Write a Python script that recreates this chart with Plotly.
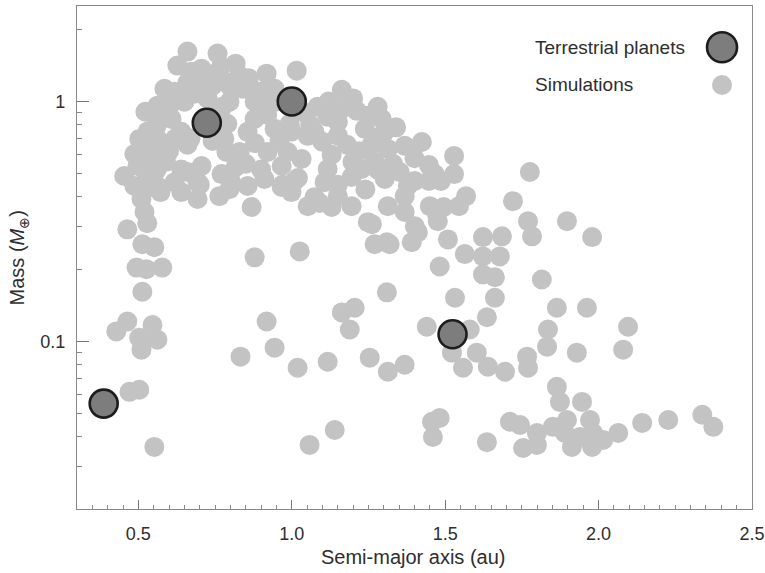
import plotly.graph_objects as go

# Terrestrial planets (semi-major axis in au, mass in Earth masses)
planet_names = ["Mercury", "Venus", "Earth", "Mars"]
planet_a = [0.387, 0.723, 1.000, 1.524]
planet_m = [0.055, 0.815, 1.000, 0.107]

# Simulated planets
sim_a = [
    0.660, 0.627, 0.758, 0.817, 0.918, 1.016, 0.673, 0.706, 0.585, 0.562,
    0.618, 0.650, 0.742, 0.784, 0.840, 0.830, 0.879, 0.918, 0.944, 1.084,
    1.163, 1.169, 1.212, 1.248, 1.293, 1.238, 1.150, 1.117, 1.052, 1.074,
    0.944, 0.921, 0.986, 1.032, 0.967, 1.313, 1.368, 1.424, 1.198, 1.195,
    1.228, 1.270, 1.303, 1.352, 1.378, 1.117, 1.107, 1.074, 1.052, 0.999,
    0.967, 0.911, 0.856, 0.869, 0.797, 0.764, 0.693, 0.693, 0.706, 0.660,
    0.817, 0.830, 0.780, 0.856, 0.879, 0.497, 0.510, 0.562, 0.608, 0.559,
    0.640, 0.454, 0.487, 0.529, 0.562, 0.618, 0.640, 0.510, 0.520, 0.464,
    1.248, 1.195, 1.313, 1.368, 1.401, 1.150, 0.585, 0.542, 0.503, 0.572,
    1.009, 1.091, 1.130, 0.742, 0.787, 0.771, 1.274, 1.447, 1.529, 1.529,
    1.486, 1.447, 1.401, 1.368, 1.568, 1.545, 1.495, 1.473, 1.466, 1.450,
    1.476, 1.310, 1.391, 0.523, 0.487, 0.774, 0.683, 0.797, 0.726, 0.790,
    0.993, 1.261, 1.270, 1.319, 1.411,
    0.600, 0.620, 0.640, 0.660, 0.600, 0.630, 0.660, 0.700, 0.730, 0.770,
    0.800, 0.860, 0.900, 0.920, 0.950, 0.960, 1.000, 1.040, 1.060, 1.100,
    1.130, 1.150, 1.180, 1.220, 1.260, 1.300, 1.340, 1.280, 1.200, 1.120,
    0.850, 0.880, 0.800, 0.700, 0.560, 0.580, 0.530, 0.520, 0.540, 0.670,
    0.900, 0.970, 1.020, 1.150, 1.240, 1.280, 1.400, 1.330, 0.760, 0.590,
    1.776, 1.721, 1.770, 1.783, 1.897, 1.979, 1.509, 1.564, 1.623, 1.685,
    1.623, 1.678, 1.482, 1.623, 1.662, 1.815, 1.310, 1.532, 1.662, 1.636,
    1.864, 1.962, 1.835, 1.832, 1.929, 2.096, 2.080, 1.440, 1.580, 1.522,
    1.603, 1.558, 1.639, 1.695, 1.767, 1.770, 1.313, 1.368, 1.864, 1.874,
    1.946, 1.482, 1.457, 1.460, 1.636, 1.711, 1.744, 1.799, 1.799, 1.754,
    1.851, 1.897, 1.890, 1.913, 1.939, 1.972, 1.982, 1.979, 2.015, 2.064,
    2.142, 2.227, 2.338, 2.374,
    0.529, 0.513, 0.552, 0.494, 0.526, 0.578, 0.513, 0.464, 0.428, 0.546,
    0.503, 0.562, 0.510, 0.471, 0.503, 0.552, 0.879, 1.026, 0.918, 0.833,
    0.944, 1.019, 1.117, 1.254, 1.163, 1.205, 1.189, 1.140, 1.058,
]
sim_m = [
    1.614, 1.411, 1.583, 1.438, 1.306, 1.344, 1.331, 1.370, 1.130, 0.959,
    1.098, 0.997, 1.163, 1.209, 1.130, 1.281, 0.997, 0.978, 1.130, 0.950,
    1.119, 0.941, 0.914, 0.871, 0.846, 0.769, 0.822, 0.863, 0.719, 0.747,
    0.769, 0.616, 0.616, 0.576, 0.538, 0.634, 0.653, 0.678, 0.560, 0.484,
    0.523, 0.560, 0.475, 0.508, 0.444, 0.523, 0.461, 0.399, 0.366, 0.419,
    0.440, 0.475, 0.444, 0.363, 0.431, 0.403, 0.392, 0.461, 0.538, 0.508,
    0.533, 0.616, 0.698, 0.747, 0.846, 0.538, 0.634, 0.698, 0.846, 0.791,
    0.747, 0.489, 0.444, 0.475, 0.444, 0.461, 0.419, 0.392, 0.346, 0.293,
    0.314, 0.366, 0.366, 0.346, 0.302, 0.403, 0.634, 0.593, 0.698, 0.419,
    0.466, 0.377, 0.363, 0.685, 0.616, 0.498, 0.705, 0.543, 0.593, 0.498,
    0.466, 0.466, 0.466, 0.403, 0.403, 0.366, 0.363, 0.339, 0.498, 0.366,
    0.317, 0.259, 0.259, 0.906, 0.604, 0.950, 1.077, 0.997, 1.026, 0.807,
    0.807, 0.308, 0.254, 0.254, 0.285,
    0.620, 0.700, 0.520, 0.660, 0.950, 1.050, 1.200, 1.200, 1.300, 1.400,
    1.150, 1.250, 1.100, 0.880, 1.000, 0.680, 0.750, 0.900, 0.800, 0.680,
    0.600, 0.720, 0.660, 0.620, 0.660, 0.740, 0.780, 0.950, 1.030, 1.000,
    0.550, 0.670, 0.470, 0.450, 0.520, 0.880, 0.750, 0.520, 0.440, 0.700,
    0.520, 0.450, 0.480, 0.450, 0.430, 0.520, 0.580, 0.550, 0.900, 0.560,
    0.508, 0.384, 0.317, 0.274, 0.317, 0.272, 0.266, 0.231, 0.272, 0.274,
    0.226, 0.226, 0.205, 0.190, 0.185, 0.181, 0.160, 0.152, 0.152, 0.126,
    0.138, 0.138, 0.112, 0.0950, 0.0897, 0.115, 0.0923, 0.115, 0.112, 0.0897,
    0.0897, 0.0776, 0.0784, 0.0747, 0.0863, 0.0776, 0.0747, 0.0799, 0.0646, 0.0559,
    0.0559, 0.0479, 0.0462, 0.0399, 0.0380, 0.0462, 0.0448, 0.0415, 0.0370, 0.0359,
    0.0440, 0.0470, 0.0415, 0.0363, 0.0399, 0.0470, 0.0415, 0.0363, 0.0388, 0.0415,
    0.0457, 0.0470, 0.0494, 0.0440,
    0.311, 0.254, 0.247, 0.203, 0.200, 0.203, 0.161, 0.121, 0.110, 0.117,
    0.1036, 0.1016, 0.0923, 0.0616, 0.0628, 0.0363, 0.224, 0.237, 0.121, 0.0863,
    0.0941, 0.0776, 0.0822, 0.0855, 0.132, 0.138, 0.112, 0.0427, 0.0370,
]

legend_labels = ["Terrestrial planets", "Simulations"]
x_ticks = [0.5, 1.0, 1.5, 2.0, 2.5]
y_ticks = [0.1, 1]
x_title = "Semi-major axis (au)"
y_title = "Mass (<i>M</i><sub>⊕</sub>)"

SIM_COLOR = "#c3c3c3"
PLANET_FILL = "#7d7d7d"
PLANET_EDGE = "#1c1c1c"
TEXT = "#2e2e2e"
FONT = "Liberation Sans, Arial, Helvetica, sans-serif"

fig = go.Figure()
fig.add_trace(go.Scatter(
    x=sim_a, y=sim_m, mode="markers", name=legend_labels[1],
    marker=dict(size=20, color=SIM_COLOR, line=dict(width=0)),
    showlegend=False, hoverinfo="x+y",
))
fig.add_trace(go.Scatter(
    x=planet_a, y=planet_m, mode="markers", name=legend_labels[0],
    text=planet_names,
    marker=dict(size=28, color=PLANET_FILL, line=dict(width=2.6, color=PLANET_EDGE)),
    showlegend=False,
))

# Legend (text on the left, symbol on the right as in the reference)
leg_x_text = 0.676
leg_x_sym = 0.9556
leg_y = [0.918, 0.843]
for lbl, yy in zip(legend_labels, leg_y):
    fig.add_annotation(x=leg_x_text, y=yy, xref="paper", yref="paper",
                       text=lbl, showarrow=False, xanchor="left", yanchor="middle",
                       font=dict(size=19, color=TEXT, family=FONT))
fig.add_shape(type="circle", xref="paper", yref="paper",
              xsizemode="pixel", ysizemode="pixel",
              xanchor=leg_x_sym, yanchor=leg_y[0],
              x0=-15, x1=15, y0=-15, y1=15,
              fillcolor=PLANET_FILL, line=dict(color=PLANET_EDGE, width=2.6))
fig.add_shape(type="circle", xref="paper", yref="paper",
              xsizemode="pixel", ysizemode="pixel",
              xanchor=leg_x_sym, yanchor=leg_y[1],
              x0=-10, x1=10, y0=-10, y1=10,
              fillcolor=SIM_COLOR, line=dict(width=0))

# Axis titles
fig.add_annotation(x=0.4978, y=-0.095, xref="paper", yref="paper",
                   text=x_title, showarrow=False, xanchor="center", yanchor="middle",
                   font=dict(size=20, color=TEXT, family=FONT))
fig.add_annotation(x=-0.086, y=0.5, xref="paper", yref="paper",
                   text=y_title, showarrow=False, textangle=-90,
                   xanchor="center", yanchor="middle",
                   font=dict(size=20, color=TEXT, family=FONT))

fig.update_layout(
    width=765, height=573,
    margin=dict(l=77, r=13, t=6, b=64, autoexpand=False),
    paper_bgcolor="white", plot_bgcolor="white",
    font=dict(family=FONT, color=TEXT, size=18),
    showlegend=False,
)
fig.update_xaxes(
    range=[0.3, 2.5], automargin=False,
    tickvals=x_ticks, ticktext=[f"{v:.1f}" for v in x_ticks],
    ticks="inside", ticklen=9, tickwidth=1.2, tickcolor="#777",
    minor=dict(dtick=0.05, tick0=0.0, ticks="inside", ticklen=4, tickcolor="#888", showgrid=False),
    showgrid=False, zeroline=False,
    showline=True, linecolor="#888", linewidth=1.3, mirror=True,
    ticklabelstandoff=8,
    tickfont=dict(size=18, color=TEXT),
)
fig.update_yaxes(
    type="log", range=[-1.699, 0.398], automargin=False,
    tickvals=y_ticks, ticktext=["0.1", "1"],
    ticks="inside", ticklen=12, tickwidth=1.2, tickcolor="#777",
    minor=dict(dtick="D1", ticks="inside", ticklen=5, tickcolor="#888", showgrid=False),
    showgrid=False, zeroline=False,
    showline=True, linecolor="#888", linewidth=1.3, mirror=True,
    ticklabelstandoff=7,
    tickfont=dict(size=18, color=TEXT),
)

fig.write_html(
    "out.html",
    config={"displayModeBar": False},
    post_script="document.body.style.margin='0px';document.body.style.overflow='hidden';",
)
